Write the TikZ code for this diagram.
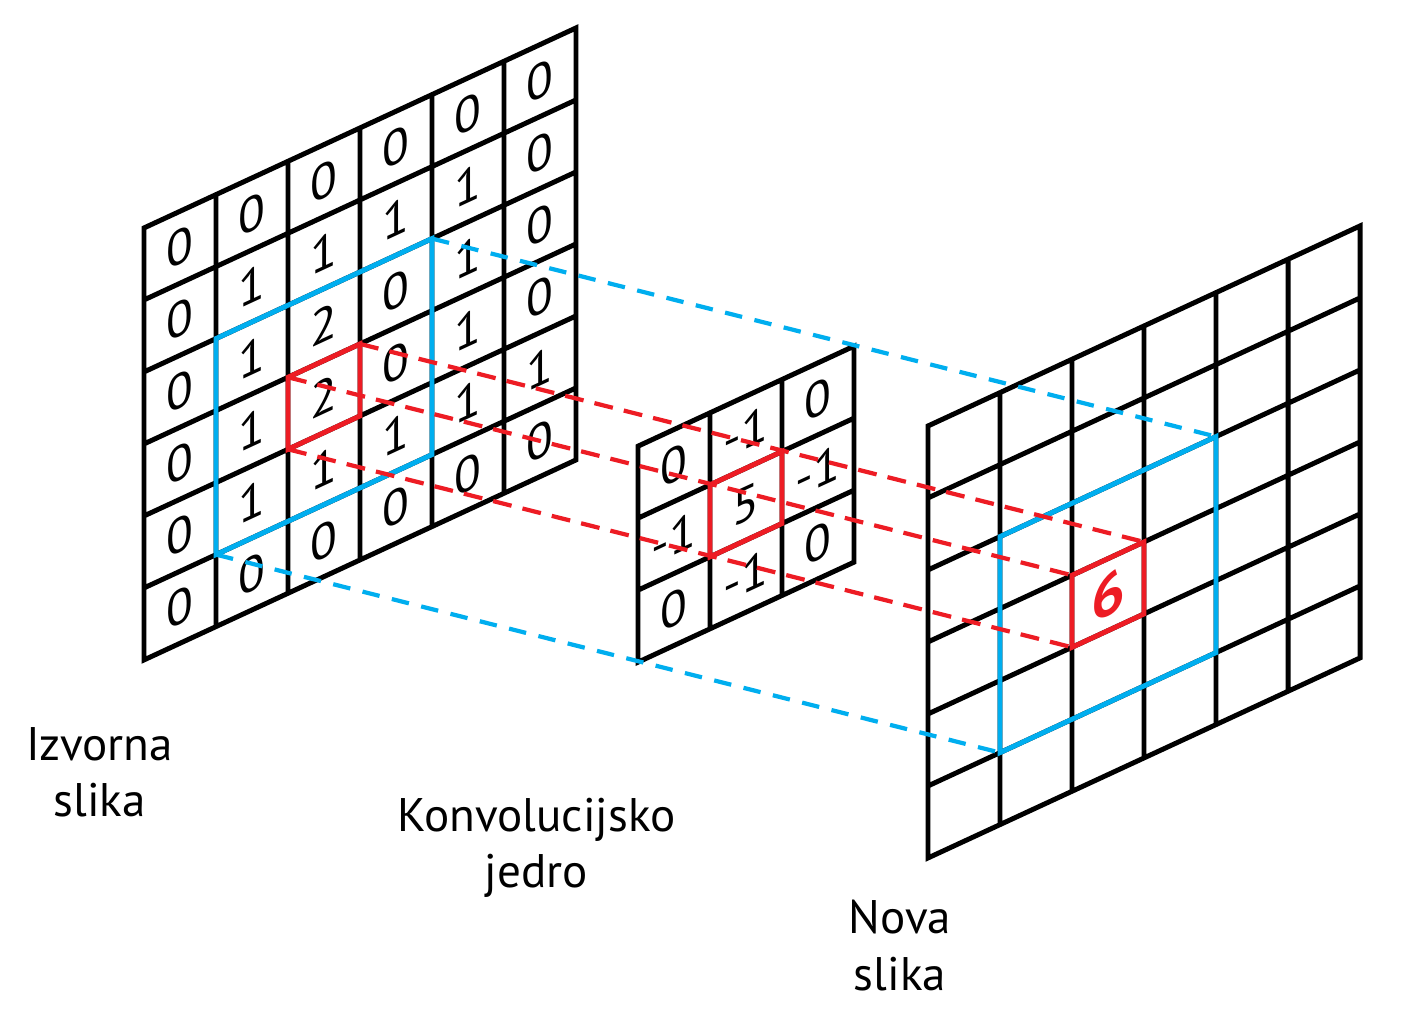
\documentclass[tikz,border=0pt]{standalone}
\usepackage{fontspec}
\setmainfont{PT Sans}
\usetikzlibrary{positioning}
\definecolor{patchblue}{RGB}{0,174,239}
\definecolor{patchred}{RGB}{237,28,36}
\tikzset{
  grid line/.style={
    black,
    line width=1.4pt
  },
  patch box/.style={
    patchblue,
    line width=1.4pt
  },
  pixel box/.style={
    patchred,
    line width=1.4pt
  },
  patch ray/.style={
    patchblue,
    line width=1.2pt,
    dash pattern=on 5pt off 3.6pt
  },
  pixel ray/.style={
    patchred,
    line width=1.2pt,
    dash pattern=on 5.4pt off 3.2pt
  },
  value/.style={
    transform shape,
    inner sep=0pt,
    font=\fontsize{14pt}{14pt}\selectfont
  },
  result/.style={
    value,
    patchred,
    font=\fontsize{17pt}{17pt}\selectfont\bfseries
  },
  caption/.style={
    align=center,
    font=\fontsize{13.4pt}{16.2pt}\selectfont
  }
}
\begin{document}
\begin{tikzpicture}[x=0.72cm, y=0.72cm]
  \useasboundingbox (0,0) rectangle (19.5,14.097);

  %% Izvorna slika
  \begin{scope}[shift={(2,4.931)}, yslant=0.463]
    \draw[grid line] (0,0) grid[step=1] (6,6) (0,0) rectangle (6,6);
    \foreach \row [count=\r from 0] in {{0,0,0,0,0,0},{0,1,1,1,1,0},{0,1,2,0,1,0},{0,1,2,0,1,0},{0,1,1,1,1,1},{0,0,0,0,0,0}}
      \foreach \v [count=\c from 0] in \row
        \node[value] (src-\r-\c) at (\c+0.5,5.5-\r) {\v};
    \draw[patch box] (1,1) rectangle (4,4);
    \draw[pixel box] (2,2) rectangle (3,3);
    \coordinate (src-sw) at (1,1);
    \coordinate (src-ne) at (4,4);
    \coordinate (src-px-sw) at (2,2);
    \coordinate (src-px-nw) at (2,3);
    \coordinate (src-px-ne) at (3,3);
  \end{scope}

  %% Konvolucijsko jedro
  \begin{scope}[shift={(8.861,4.9)}, yslant=0.463]
    \draw[grid line] (0,0) grid[step=1] (3,3) (0,0) rectangle (3,3);
    \foreach \row [count=\r from 0] in {{0,-1,0},{-1,5,-1},{0,-1,0}}
      \foreach \v [count=\c from 0] in \row
        \node[value] (ker-\r-\c) at (\c+0.5,2.5-\r) {\v};
    \draw[pixel box] (1,1) rectangle (2,2);
  \end{scope}

  %% Nova slika
  \begin{scope}[shift={(12.889,2.181)}, yslant=0.463]
    \draw[grid line] (0,0) grid[step=1] (6,6) (0,0) rectangle (6,6);
    \draw[patch box] (1,1) rectangle (4,4);
    \draw[pixel box] (2,2) rectangle (3,3);
    \node[result] (out-val) at (2.5,2.5) {6};
    \coordinate (out-sw) at (1,1);
    \coordinate (out-ne) at (4,4);
    \coordinate (out-px-sw) at (2,2);
    \coordinate (out-px-nw) at (2,3);
    \coordinate (out-px-ne) at (3,3);
  \end{scope}

  %% projekcije
  \draw[patch ray] (src-ne) -- (out-ne);
  \draw[patch ray] (src-sw) -- (out-sw);
  \foreach \k in {sw,nw,ne}
    \draw[pixel ray] (src-px-\k) -- (out-px-\k);

  \node[caption, anchor=base] (src-cap) at (1.382,2.75) {Izvorna\\slika};
  \node[caption, anchor=base] (ker-cap) at (7.451,1.764) {Konvolucijsko\\jedro};
  \node[caption, anchor=base] (out-cap) at (12.5,0.347) {Nova\\slika};
\end{tikzpicture}
\end{document}
